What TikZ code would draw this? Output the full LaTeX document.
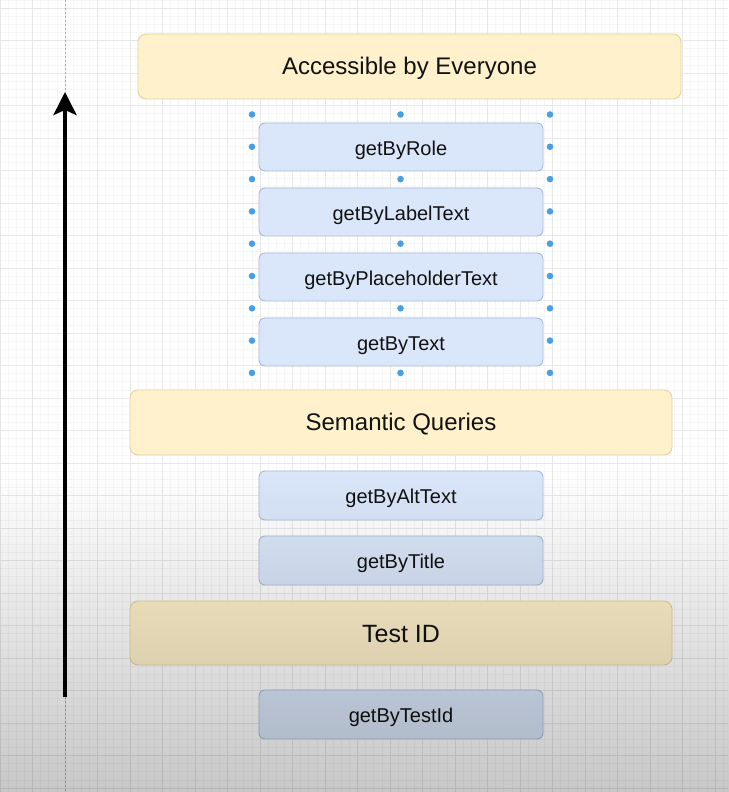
\documentclass[tikz,border=0pt]{standalone}
\usepackage{fontspec}
\setmainfont{Liberation Sans}
\usetikzlibrary{arrows.meta,fadings}
\definecolor{minorgrid}{HTML}{F6F6F6}
\definecolor{majorgrid}{HTML}{E8E8E8}
\definecolor{yelfill}{HTML}{FEF1CB}
\definecolor{yeldraw}{HTML}{E3D29C}
\definecolor{bluefill}{HTML}{DAE7FA}
\definecolor{bluedraw}{HTML}{A6BAD8}
\definecolor{handle}{HTML}{4A9FE3}
\definecolor{txt}{HTML}{121212}
\definecolor{dashgray}{HTML}{ABABAB}
\tikzfading[name=vigfade, top color=transparent!100, bottom color=transparent!0]
\begin{document}
\begin{tikzpicture}[x=1pt,y=1pt,
  band/.style={draw=yeldraw, fill=yelfill, rounded corners=8pt, line width=0.9pt,
    minimum width=542pt, minimum height=65pt, font=\fontsize{24}{28}\selectfont,
    text=txt, inner sep=0pt},
  query/.style={draw=bluedraw, fill=bluefill, rounded corners=6pt, line width=0.9pt,
    minimum width=284pt, minimum height=48pt, font=\fontsize{20}{23}\selectfont,
    text=txt, inner sep=0pt, text height=17pt, text depth=0pt},
  handledot/.style={fill=handle, draw=none},
  minorline/.style={draw=minorgrid, line width=0.6pt},
  majorline/.style={draw=majorgrid, line width=0.9pt},
  guide/.style={draw=dashgray, line width=0.7pt, dash pattern=on 2pt off 2pt},
  levelarrow/.style={draw=black, line width=4pt, -{Stealth[length=23pt, width=23pt, inset=5pt]}},
]
\useasboundingbox (0,0) rectangle (728,792);
\fill[white] (-2,-2) rectangle (730,794);
% grid
\foreach \i in {0,...,90} \draw[minorline] (\i*8.125,0) -- (\i*8.125,792);
\foreach \i in {-1,...,97} \draw[minorline] (0,784-\i*8.125) -- (728,784-\i*8.125);
\foreach \i in {0,...,22} \draw[majorline] (\i*32.5,0) -- (\i*32.5,792);
\foreach \i in {0,...,24} \draw[majorline] (0,784-\i*32.5) -- (728,784-\i*32.5);

% arrow and guide
\coordinate (dtop) at (65,792);
\coordinate (dbot) at (65,0);
\coordinate (arrbot) at (65,95);
\coordinate (arrtop) at (65,700);
\draw[guide] (dtop) -- (arrtop);
\draw[guide] (arrbot) -- (dbot);
\draw[levelarrow] (arrbot) -- (arrtop);

% bands
\node[band, minimum width=543pt, text height=15.5pt, text depth=0pt] (acc) at (409.5,725.5) {Accessible by Everyone};
\node[band, text height=15.5pt, text depth=0pt] (sem) at (401,369.5) {Semantic Queries};
\node[band, minimum height=64pt, font=\fontsize{25}{29}\selectfont, text height=19pt, text depth=0pt] (tid) at (401,159) {Test ID};

% queries
\node[query] (role)  at (401,645) {getByRole};
\node[query] (label) at (401,580) {getByLabelText};
\node[query] (place) at (401,515) {getByPlaceholderText};
\node[query] (text)  at (401,450) {getByText};
\node[query, minimum height=49pt] (alt)   at (401,296.5) {getByAltText};
\node[query, minimum height=49pt] (title) at (401,231.5) {getByTitle};
\node[query, minimum height=49pt] (testid) at (401,77.5) {getByTestId};

% selection handles
\foreach \y in {677.5,612.9,548.3,483.7,419.1} {
  \fill[handledot] (252,\y) circle (3.3pt);
  \fill[handledot] (400.5,\y) circle (3.3pt);
  \fill[handledot] (550,\y) circle (3.3pt);
}
\foreach \y in {645.2,580.6,516,451.4} {
  \fill[handledot] (252,\y) circle (3.3pt);
  \fill[handledot] (550,\y) circle (3.3pt);
}

% darkening toward the bottom
\fill[black, fill opacity=0.22, path fading=vigfade] (-2,-2) rectangle (730,322);
\end{tikzpicture}
\end{document}
